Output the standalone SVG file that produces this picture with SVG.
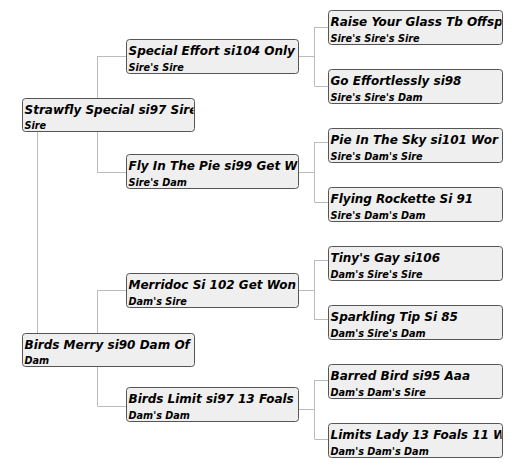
<svg xmlns="http://www.w3.org/2000/svg" width="522" height="473" viewBox="0 0 522 473">
<defs>
<clipPath id="c1"><rect x="0" y="0" width="171" height="40"/></clipPath>
<clipPath id="c3"><rect x="0" y="0" width="173" height="40"/></clipPath>
</defs>
<style>
.b{fill:#efefef;stroke:#555;stroke-width:1}
.t{font-family:"DejaVu Sans",Verdana,sans-serif;font-weight:bold;font-style:italic;font-size:12px;fill:#000}
.s{font-family:"DejaVu Sans",Verdana,sans-serif;font-weight:bold;font-style:italic;font-size:9.7px;fill:#000}
.l{stroke:#bbb;stroke-width:1;fill:none}
</style>
<rect width="522" height="473" fill="#fff"/>
<g id="connectors">
<path class="l" d="M37.5 131V333"/>
<path class="l" d="M97.5 56V173M97.5 56.5H126M97.5 172.5H126"/>
<path class="l" d="M97.5 290V406M97.5 290.5H126M97.5 406.5H126"/>
<path class="l" d="M298 56.5H314.5M314.5 27V86M314.5 27.5H328M314.5 86.5H328"/>
<path class="l" d="M298 172.5H314.5M314.5 142V202M314.5 142.5H328M314.5 202.5H328"/>
<path class="l" d="M298 290.5H314.5M314.5 260V320M314.5 260.5H328M314.5 319.5H328"/>
<path class="l" d="M298 409.5H314.5M314.5 380V439M314.5 380.5H328M314.5 439.5H328"/>
</g>
<g id="sire" transform="translate(22.5,98.5)"><rect class="b" width="172" height="33" rx="3"/><g clip-path="url(#c1)"><text class="t" x="2" y="15">Strawfly Special si97 Sire</text><text class="s" x="2" y="30">Sire</text></g></g>
<g id="dam" transform="translate(22.5,333.5)"><rect class="b" width="172" height="33" rx="3"/><g clip-path="url(#c1)"><text class="t" x="2" y="15">Birds Merry si90 Dam Of</text><text class="s" x="2" y="30">Dam</text></g></g>
<g id="ss" transform="translate(126.5,39.5)"><rect class="b" width="172" height="34" rx="3"/><g clip-path="url(#c1)"><text class="t" x="2" y="15.5">Special Effort si104 Only</text><text class="s" x="2" y="31">Sire's Sire</text></g></g>
<g id="sd" transform="translate(126.5,154.5)"><rect class="b" width="172" height="34" rx="3"/><g clip-path="url(#c1)"><text class="t" x="2" y="15.5">Fly In The Pie si99 Get W</text><text class="s" x="2" y="31">Sire's Dam</text></g></g>
<g id="ds" transform="translate(126.5,273.5)"><rect class="b" width="172" height="34" rx="3"/><g clip-path="url(#c1)"><text class="t" x="2" y="15.5">Merridoc Si 102 Get Won</text><text class="s" x="2" y="31">Dam's Sire</text></g></g>
<g id="dd" transform="translate(126.5,387.5)"><rect class="b" width="172" height="34" rx="3"/><g clip-path="url(#c1)"><text class="t" x="2" y="15.5">Birds Limit si97 13 Foals</text><text class="s" x="2" y="31">Dam's Dam</text></g></g>
<g id="sss" transform="translate(328.5,10.5)"><rect class="b" width="174" height="34" rx="3"/><g clip-path="url(#c3)"><text class="t" x="2" y="15.5">Raise Your Glass Tb Offsp</text><text class="s" x="2" y="31">Sire's Sire's Sire</text></g></g>
<g id="ssd" transform="translate(328.5,69.5)"><rect class="b" width="174" height="34" rx="3"/><g clip-path="url(#c3)"><text class="t" x="2" y="15.5">Go Effortlessly si98</text><text class="s" x="2" y="31">Sire's Sire's Dam</text></g></g>
<g id="sds" transform="translate(328.5,128.5)"><rect class="b" width="174" height="34" rx="3"/><g clip-path="url(#c3)"><text class="t" x="2" y="15.5">Pie In The Sky si101 Wor</text><text class="s" x="2" y="31">Sire's Dam's Sire</text></g></g>
<g id="sdd" transform="translate(328.5,187.5)"><rect class="b" width="174" height="34" rx="3"/><g clip-path="url(#c3)"><text class="t" x="2" y="15.5">Flying Rockette Si 91</text><text class="s" x="2" y="31">Sire's Dam's Dam</text></g></g>
<g id="dss" transform="translate(328.5,246.5)"><rect class="b" width="174" height="34" rx="3"/><g clip-path="url(#c3)"><text class="t" x="2" y="15.5">Tiny's Gay si106</text><text class="s" x="2" y="31">Dam's Sire's Sire</text></g></g>
<g id="dsd" transform="translate(328.5,305.5)"><rect class="b" width="174" height="34" rx="3"/><g clip-path="url(#c3)"><text class="t" x="2" y="15.5">Sparkling Tip Si 85</text><text class="s" x="2" y="31">Dam's Sire's Dam</text></g></g>
<g id="dds" transform="translate(328.5,364.5)"><rect class="b" width="174" height="34" rx="3"/><g clip-path="url(#c3)"><text class="t" x="2" y="15.5">Barred Bird si95 Aaa</text><text class="s" x="2" y="31">Dam's Dam's Sire</text></g></g>
<g id="ddd" transform="translate(328.5,423.5)"><rect class="b" width="174" height="34" rx="3"/><g clip-path="url(#c3)"><text class="t" x="2" y="15.5">Limits Lady 13 Foals 11 W</text><text class="s" x="2" y="31">Dam's Dam's Dam</text></g></g>
</svg>
